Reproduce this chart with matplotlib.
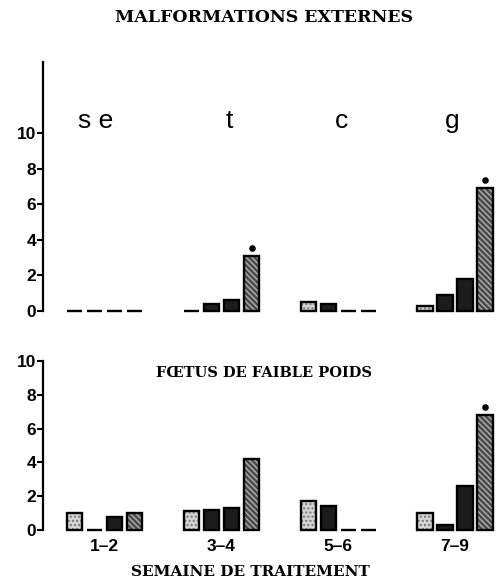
import matplotlib
matplotlib.use("Agg")
import matplotlib.pyplot as plt
import numpy as np

# semaines de traitement (groupes) et lettres des traitements du panneau du haut
WEEKS = ["1–2", "3–4", "5–6", "7–9"]
GROUP_LETTERS = ["s e", "t", "c", "g"]
LETTER_X = [-0.08, 1.07, 2.03, 2.98]

# malformations externes (%) : 4 doses par groupe
MALF = [
    [0.0, 0.0, 0.0, 0.0],
    [0.0, 0.4, 0.6, 3.1],
    [0.5, 0.4, 0.0, 0.0],
    [0.3, 0.9, 1.8, 6.9],
]
MALF_SIG = [
    [0, 0, 0, 0],
    [0, 0, 0, 1],
    [0, 0, 0, 0],
    [0, 0, 0, 1],
]

# foetus de faible poids (%)
POIDS = [
    [1.0, 0.0, 0.75, 1.0],
    [1.1, 1.2, 1.3, 4.2],
    [1.7, 1.4, 0.0, 0.0],
    [1.0, 0.3, 2.6, 6.8],
]
POIDS_SIG = [
    [0, 0, 0, 0],
    [0, 0, 0, 0],
    [0, 0, 0, 0],
    [0, 0, 0, 1],
]

OFFSETS = np.array([-0.257, -0.086, 0.086, 0.257])
WIDTH = 0.13
# (fond, hachure, couleur de hachure) par dose
STYLES = [
    ("#d4d4d4", "....", "#777777"),
    ("#1c1c1c", None, "#1c1c1c"),
    ("#1c1c1c", None, "#1c1c1c"),
    ("#4a4a4a", "\\\\\\\\\\\\", "#b0b0b0"),
]

SANS = "Liberation Sans"
SERIF = "DejaVu Serif"


def draw_bars(ax, values, sig):
    vals = np.array(values)
    x0 = np.arange(len(WEEKS))
    for k, (fc, hatch, hc) in enumerate(STYLES):
        xs = x0 + OFFSETS[k]
        ax.bar(xs, vals[:, k], WIDTH, color=fc, hatch=hatch, edgecolor=hc, lw=0)
        ax.bar(xs, vals[:, k], WIDTH, fill=False, edgecolor="black", lw=1.7)
    s = np.array(sig, bool)
    gi, ki = np.nonzero(s)
    ax.scatter(x0[gi] + OFFSETS[ki], vals[gi, ki] + 0.45, s=14, color="black", zorder=4)


def style_axes(ax, top):
    ax.set_xlim(-0.53, 3.35)
    ax.set_ylim(-0.3, top)
    for sp in ["top", "right", "bottom"]:
        ax.spines[sp].set_visible(False)
    ax.spines["left"].set_linewidth(1.6)
    ax.spines["left"].set_bounds(0, min(top, 14))
    ax.set_yticks(range(0, 11, 2))
    ax.tick_params(axis="y", direction="out", length=4, width=1.5, pad=1)
    for lab in ax.get_yticklabels():
        lab.set_fontfamily(SANS)
        lab.set_fontweight("bold")
        lab.set_fontsize(12.5)


fig = plt.figure(figsize=(4.96, 5.82), dpi=100)
ax1 = fig.add_axes([0.0867, 0.4565, 0.913, 0.4374])
ax2 = fig.add_axes([0.0867, 0.0806, 0.913, 0.302])

draw_bars(ax1, MALF, MALF_SIG)
style_axes(ax1, 14.0)
ax1.set_xticks([])
for lx, letter in zip(LETTER_X, GROUP_LETTERS):
    ax1.text(lx, 10.3, letter, ha="center", va="baseline", fontsize=19, family=SANS)

draw_bars(ax2, POIDS, POIDS_SIG)
style_axes(ax2, 10.1)
ax2.spines["left"].set_bounds(0, 10)
ax2.set_xticks(range(len(WEEKS)))
ax2.set_xticklabels(WEEKS, family=SANS, fontweight="bold", fontsize=12.5)
ax2.tick_params(axis="x", length=0, pad=3)

fig.text(0.533, 1 - 18 / 582, "MALFORMATIONS EXTERNES", ha="center", va="center",
         family=SERIF, fontweight="bold", fontsize=12.5)
fig.text(0.532, 1 - 373 / 582, "FŒTUS DE FAIBLE POIDS", ha="center", va="center",
         family=SERIF, fontweight="bold", fontsize=10.5)
fig.text(0.505, 1 - 572 / 582, "SEMAINE DE TRAITEMENT", ha="center", va="center",
         family=SERIF, fontweight="bold", fontsize=11)

fig.savefig("out.png", dpi=100)
